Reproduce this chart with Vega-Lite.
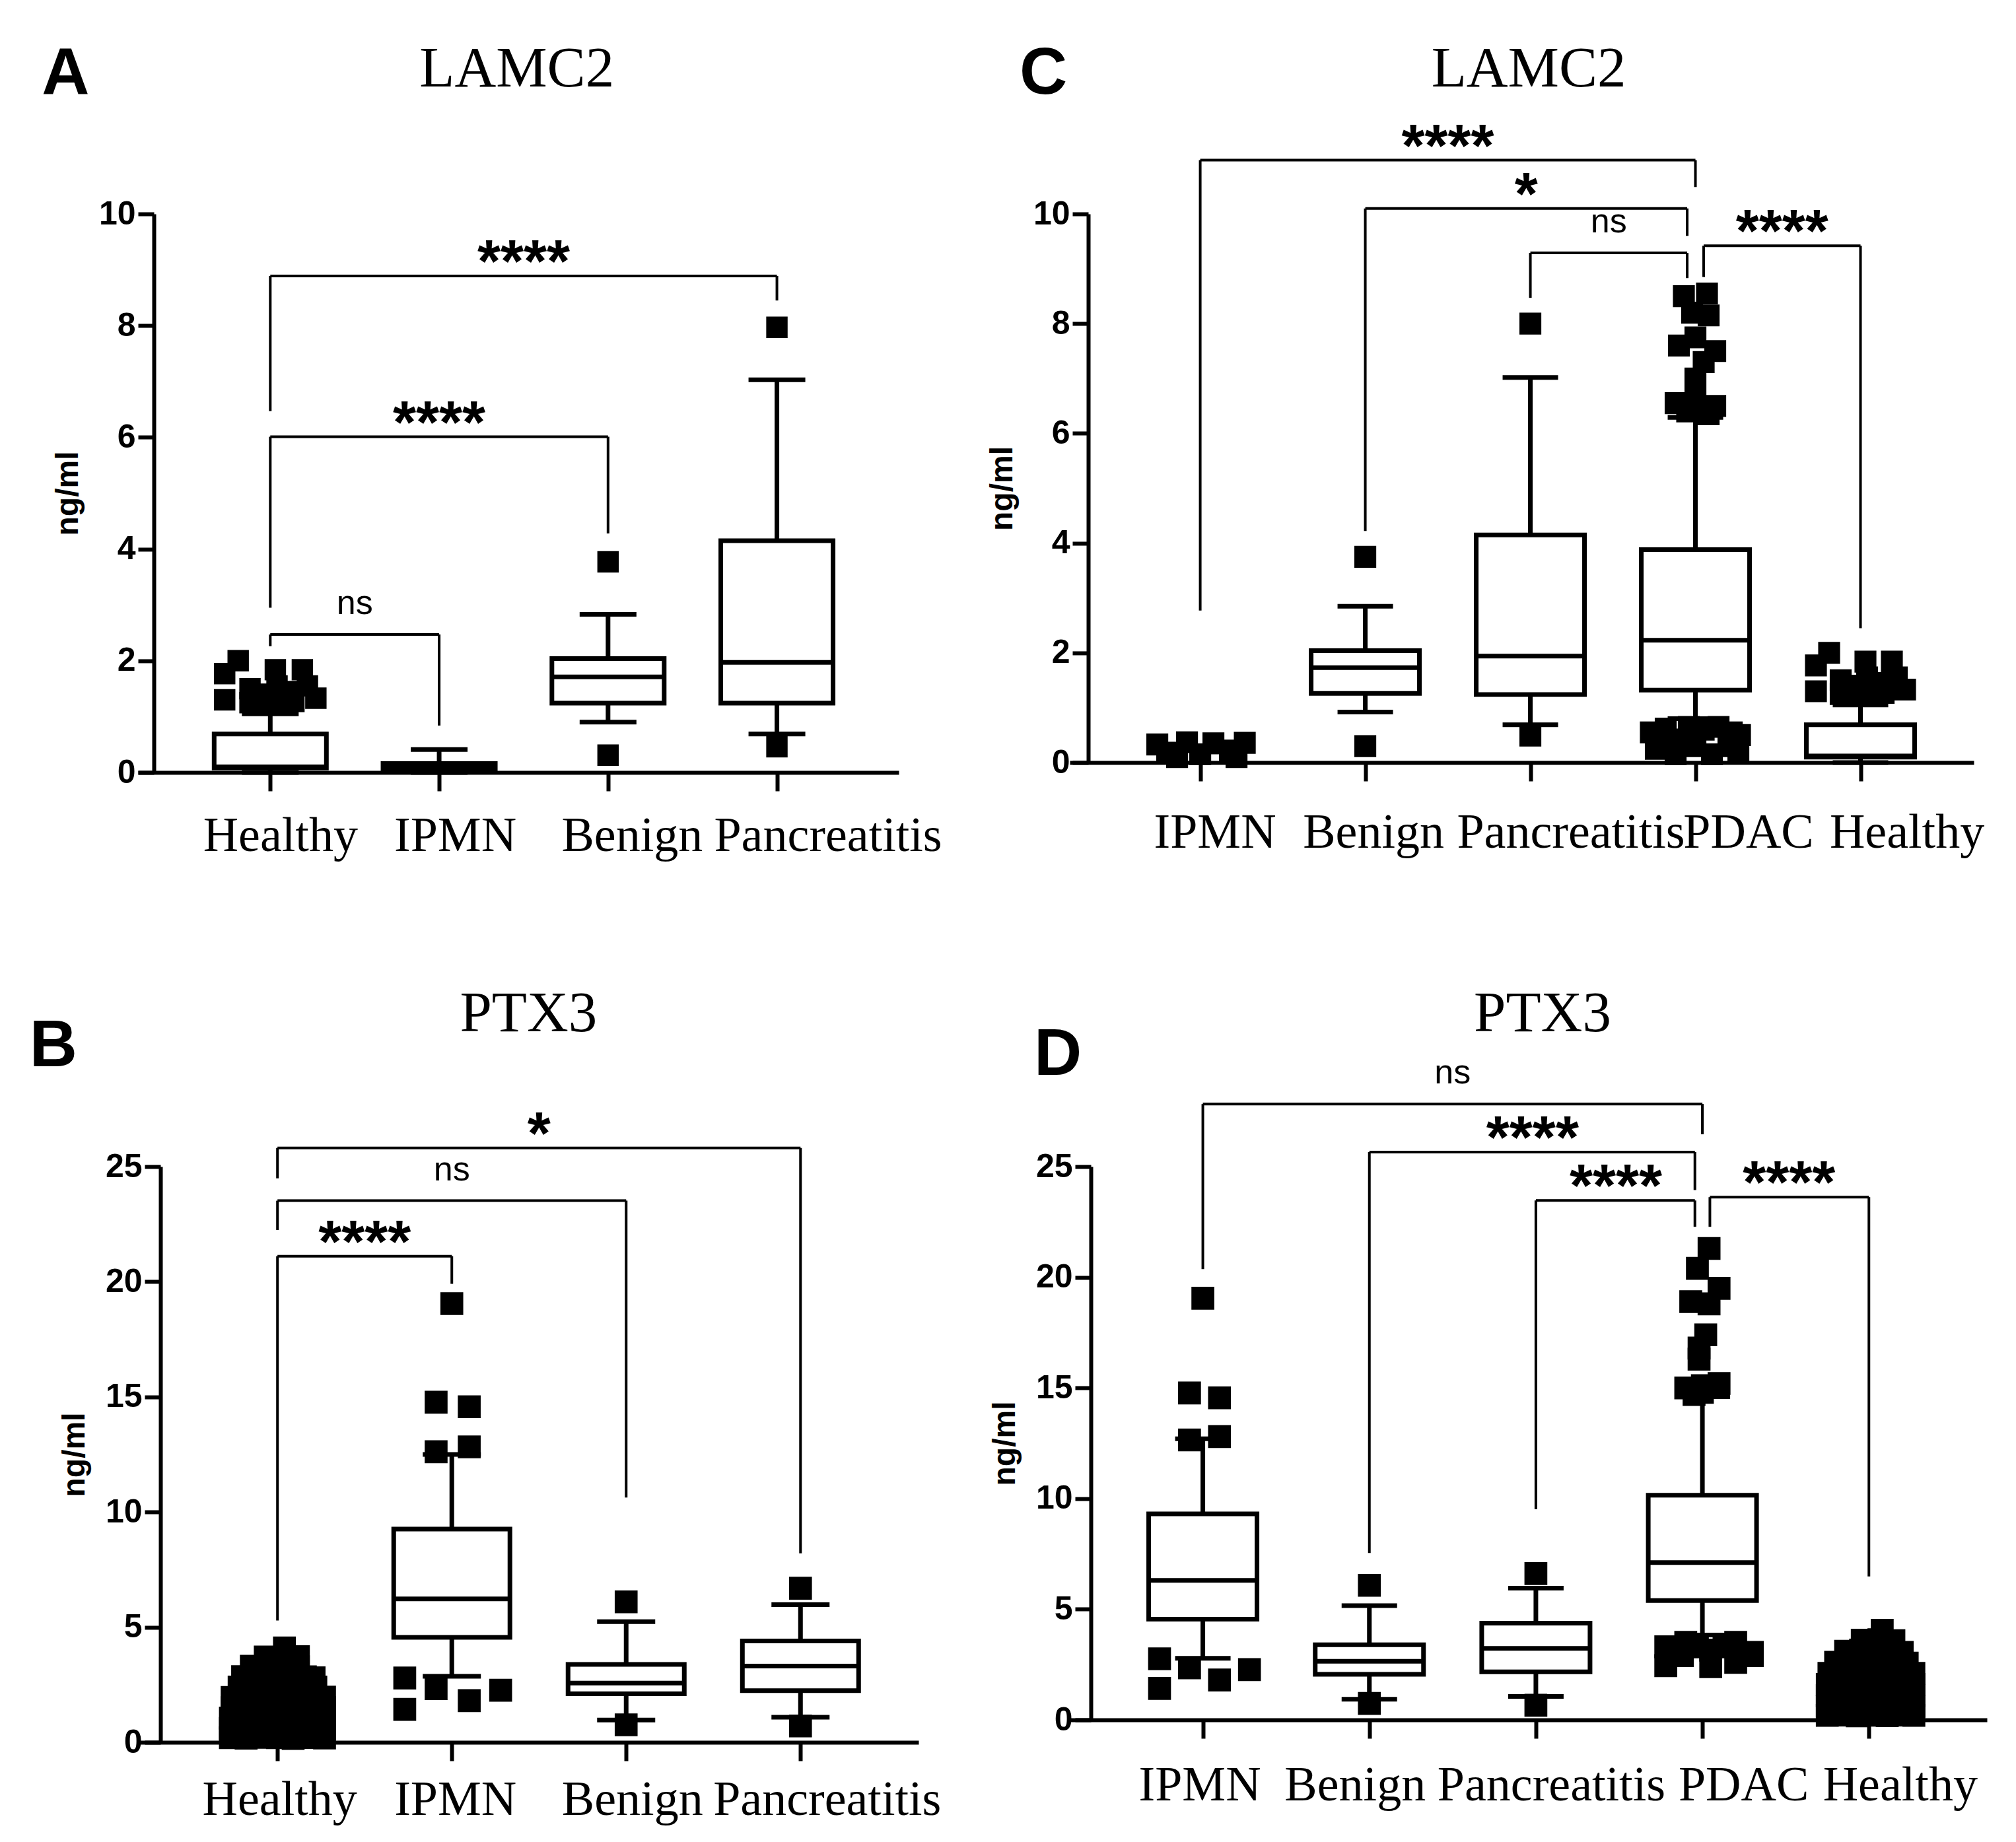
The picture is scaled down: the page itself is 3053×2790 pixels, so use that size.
{
"$schema": "https://vega.github.io/schema/vega-lite/v6.json",
"background": "white",
"padding": {"left": 44, "top": 61, "right": 10, "bottom": 10},
"bounds": "flush",
"columns": 2,
"align": "each",
"spacing": {"row": 597, "column": 229},
"config": {"view": {"stroke": null}, "axis": {"grid": false}},
"datasets": {
"boxes": [
{"panel":"A","group":"Healthy","x":1,"lo":0,"q1":0.08,"med":0.1,"q3":0.69,"hi":1.05},
{"panel":"A","group":"IPMN","x":2,"lo":0,"q1":0.04,"med":0.1,"q3":0.16,"hi":0.41},
{"panel":"A","group":"Benign","x":3,"lo":0.9,"q1":1.24,"med":1.71,"q3":2.04,"hi":2.83},
{"panel":"A","group":"Pancreatitis","x":4,"lo":0.69,"q1":1.24,"med":1.97,"q3":4.15,"hi":7.03},
{"panel":"C","group":"Benign","x":2,"lo":0.92,"q1":1.26,"med":1.73,"q3":2.04,"hi":2.85},
{"panel":"C","group":"Pancreatitis","x":3,"lo":0.69,"q1":1.24,"med":1.94,"q3":4.15,"hi":7.02},
{"panel":"C","group":"PDAC","x":4,"lo":0.8,"q1":1.32,"med":2.23,"q3":3.88,"hi":6.29},
{"panel":"C","group":"Healthy","x":5,"lo":0,"q1":0.1,"med":0.12,"q3":0.69,"hi":1.05},
{"panel":"B","group":"IPMN","x":2,"lo":2.87,"q1":4.56,"med":6.23,"q3":9.26,"hi":12.5},
{"panel":"B","group":"Benign","x":3,"lo":0.97,"q1":2.11,"med":2.57,"q3":3.38,"hi":5.24},
{"panel":"B","group":"Pancreatitis","x":4,"lo":1.09,"q1":2.24,"med":3.31,"q3":4.4,"hi":5.98},
{"panel":"D","group":"IPMN","x":1,"lo":2.78,"q1":4.55,"med":6.3,"q3":9.31,"hi":12.7},
{"panel":"D","group":"Benign","x":2,"lo":0.93,"q1":2.06,"med":2.65,"q3":3.39,"hi":5.16},
{"panel":"D","group":"Pancreatitis","x":3,"lo":1.06,"q1":2.17,"med":3.23,"q3":4.37,"hi":5.95},
{"panel":"D","group":"PDAC","x":4,"lo":3.83,"q1":5.39,"med":7.11,"q3":10.15,"hi":14.6}
],
"points": [
{"panel":"A","x":0.73,"y":1.77},{"panel":"A","x":0.73,"y":1.3},{"panel":"A","x":0.81,"y":2.0},{"panel":"A","x":0.88,"y":1.5},{"panel":"A","x":0.88,"y":1.25},{"panel":"A","x":0.96,"y":1.4},{"panel":"A","x":1.03,"y":1.84},{"panel":"A","x":1.04,"y":1.55},{"panel":"A","x":1.04,"y":1.28},{"panel":"A","x":1.14,"y":1.27},{"panel":"A","x":1.19,"y":1.84},{"panel":"A","x":1.22,"y":1.55},{"panel":"A","x":1.27,"y":1.33},{"panel":"A","x":0.96,"y":1.22},{"panel":"A","x":1.1,"y":1.45},
{"panel":"A","x":3,"y":3.77},{"panel":"A","x":3,"y":0.31},{"panel":"A","x":4,"y":7.97},{"panel":"A","x":4,"y":0.46},
{"panel":"C","x":0.74,"y":0.33},{"panel":"C","x":0.8,"y":0.18},{"panel":"C","x":0.92,"y":0.37},{"panel":"C","x":1.0,"y":0.15},{"panel":"C","x":1.08,"y":0.35},{"panel":"C","x":1.18,"y":0.22},{"panel":"C","x":1.27,"y":0.36},{"panel":"C","x":0.86,"y":0.1},{"panel":"C","x":1.22,"y":0.1},
{"panel":"C","x":2,"y":3.75},{"panel":"C","x":2,"y":0.3},{"panel":"C","x":3,"y":8.0},{"panel":"C","x":3,"y":0.49},
{"panel":"C","x":3.93,"y":8.5},{"panel":"C","x":4.07,"y":8.55},{"panel":"C","x":3.98,"y":8.2},{"panel":"C","x":4.08,"y":8.15},{"panel":"C","x":3.9,"y":7.6},{"panel":"C","x":4.0,"y":7.75},{"panel":"C","x":4.12,"y":7.5},{"panel":"C","x":4.05,"y":7.3},{"panel":"C","x":4.0,"y":7.0},{"panel":"C","x":3.88,"y":6.55},{"panel":"C","x":4.0,"y":6.6},{"panel":"C","x":4.12,"y":6.5},{"panel":"C","x":3.95,"y":6.4},{"panel":"C","x":4.08,"y":6.35},
{"panel":"C","x":3.73,"y":0.55},{"panel":"C","x":3.82,"y":0.62},{"panel":"C","x":3.9,"y":0.4},{"panel":"C","x":3.96,"y":0.65},{"panel":"C","x":4.05,"y":0.6},{"panel":"C","x":4.14,"y":0.65},{"panel":"C","x":4.22,"y":0.55},{"panel":"C","x":4.27,"y":0.5},{"panel":"C","x":3.76,"y":0.25},{"panel":"C","x":3.88,"y":0.15},{"panel":"C","x":4.0,"y":0.3},{"panel":"C","x":4.1,"y":0.15},{"panel":"C","x":4.2,"y":0.3},{"panel":"C","x":3.84,"y":0.42},{"panel":"C","x":4.26,"y":0.22},
{"panel":"C","x":4.73,"y":1.77},{"panel":"C","x":4.73,"y":1.3},{"panel":"C","x":4.81,"y":2.0},{"panel":"C","x":4.88,"y":1.5},{"panel":"C","x":4.88,"y":1.25},{"panel":"C","x":4.96,"y":1.4},{"panel":"C","x":5.03,"y":1.84},{"panel":"C","x":5.04,"y":1.55},{"panel":"C","x":5.04,"y":1.28},{"panel":"C","x":5.14,"y":1.27},{"panel":"C","x":5.19,"y":1.84},{"panel":"C","x":5.22,"y":1.55},{"panel":"C","x":5.27,"y":1.33},{"panel":"C","x":4.96,"y":1.22},{"panel":"C","x":5.1,"y":1.45},
{"panel":"B","x":1.04,"y":4.1},
{"panel":"B","x":0.93,"y":3.7},{"panel":"B","x":1.04,"y":3.68},{"panel":"B","x":1.12,"y":3.72},
{"panel":"B","x":0.85,"y":3.3},{"panel":"B","x":0.94,"y":3.25},{"panel":"B","x":1.03,"y":3.32},{"panel":"B","x":1.12,"y":3.28},
{"panel":"B","x":0.8,"y":2.85},{"panel":"B","x":0.89,"y":2.9},{"panel":"B","x":0.98,"y":2.82},{"panel":"B","x":1.07,"y":2.88},{"panel":"B","x":1.16,"y":2.84},{"panel":"B","x":1.21,"y":2.8},
{"panel":"B","x":0.78,"y":2.4},{"panel":"B","x":0.87,"y":2.44},{"panel":"B","x":0.96,"y":2.38},{"panel":"B","x":1.05,"y":2.42},{"panel":"B","x":1.14,"y":2.36},{"panel":"B","x":1.22,"y":2.4},
{"panel":"B","x":0.74,"y":1.95},{"panel":"B","x":0.83,"y":1.92},{"panel":"B","x":0.92,"y":1.97},{"panel":"B","x":1.01,"y":1.94},{"panel":"B","x":1.1,"y":1.98},{"panel":"B","x":1.19,"y":1.93},{"panel":"B","x":1.27,"y":1.96},
{"panel":"B","x":0.74,"y":1.5},{"panel":"B","x":0.83,"y":1.48},{"panel":"B","x":0.92,"y":1.52},{"panel":"B","x":1.01,"y":1.5},{"panel":"B","x":1.1,"y":1.47},{"panel":"B","x":1.19,"y":1.53},{"panel":"B","x":1.27,"y":1.5},
{"panel":"B","x":0.73,"y":1.05},{"panel":"B","x":0.82,"y":1.03},{"panel":"B","x":0.91,"y":1.07},{"panel":"B","x":1.0,"y":1.05},{"panel":"B","x":1.09,"y":1.02},{"panel":"B","x":1.18,"y":1.06},{"panel":"B","x":1.27,"y":1.04},
{"panel":"B","x":0.73,"y":0.6},{"panel":"B","x":0.82,"y":0.62},{"panel":"B","x":0.91,"y":0.58},{"panel":"B","x":1.0,"y":0.6},{"panel":"B","x":1.09,"y":0.63},{"panel":"B","x":1.18,"y":0.57},{"panel":"B","x":1.27,"y":0.6},
{"panel":"B","x":0.73,"y":0.2},{"panel":"B","x":0.82,"y":0.18},{"panel":"B","x":0.91,"y":0.22},{"panel":"B","x":1.0,"y":0.2},{"panel":"B","x":1.09,"y":0.17},{"panel":"B","x":1.18,"y":0.21},{"panel":"B","x":1.27,"y":0.19},
{"panel":"B","x":2.0,"y":19.05},{"panel":"B","x":1.91,"y":14.77},{"panel":"B","x":2.1,"y":14.57},{"panel":"B","x":1.91,"y":12.62},{"panel":"B","x":2.1,"y":12.83},{"panel":"B","x":1.73,"y":2.79},{"panel":"B","x":1.73,"y":1.43},{"panel":"B","x":1.91,"y":2.33},{"panel":"B","x":2.1,"y":1.81},{"panel":"B","x":2.28,"y":2.26},
{"panel":"B","x":3,"y":6.1},{"panel":"B","x":3,"y":0.76},{"panel":"B","x":4,"y":6.69},{"panel":"B","x":4,"y":0.71},
{"panel":"D","x":1.0,"y":19.05},{"panel":"D","x":0.92,"y":14.77},{"panel":"D","x":1.1,"y":14.55},{"panel":"D","x":0.92,"y":12.65},{"panel":"D","x":1.1,"y":12.8},{"panel":"D","x":0.74,"y":2.76},{"panel":"D","x":0.74,"y":1.42},{"panel":"D","x":0.92,"y":2.35},{"panel":"D","x":1.1,"y":1.8},{"panel":"D","x":1.28,"y":2.27},
{"panel":"D","x":2,"y":6.08},{"panel":"D","x":2,"y":0.74},{"panel":"D","x":3,"y":6.61},{"panel":"D","x":3,"y":0.66},
{"panel":"D","x":4.04,"y":21.3},{"panel":"D","x":3.97,"y":20.4},{"panel":"D","x":4.1,"y":19.5},{"panel":"D","x":3.93,"y":18.9},{"panel":"D","x":4.04,"y":18.8},{"panel":"D","x":4.02,"y":17.4},{"panel":"D","x":3.98,"y":16.8},{"panel":"D","x":3.98,"y":16.3},{"panel":"D","x":3.9,"y":15.0},{"panel":"D","x":4.0,"y":15.1},{"panel":"D","x":4.1,"y":15.2},{"panel":"D","x":4.0,"y":14.8},{"panel":"D","x":3.95,"y":14.7},
{"panel":"D","x":3.78,"y":3.3},{"panel":"D","x":3.78,"y":2.45},{"panel":"D","x":3.9,"y":3.5},{"panel":"D","x":3.97,"y":3.3},{"panel":"D","x":4.05,"y":3.15},{"panel":"D","x":4.05,"y":2.4},{"panel":"D","x":4.2,"y":3.5},{"panel":"D","x":4.2,"y":2.6},{"panel":"D","x":4.3,"y":3.05},{"panel":"D","x":3.88,"y":2.9},{"panel":"D","x":3.85,"y":3.1},{"panel":"D","x":4.13,"y":3.3},{"panel":"D","x":4.3,"y":2.9},
{"panel":"D","x":5.08,"y":4.05},
{"panel":"D","x":4.96,"y":3.6},{"panel":"D","x":5.06,"y":3.62},{"panel":"D","x":5.15,"y":3.58},
{"panel":"D","x":4.86,"y":3.1},{"panel":"D","x":4.95,"y":3.15},{"panel":"D","x":5.04,"y":3.08},{"panel":"D","x":5.14,"y":3.12},{"panel":"D","x":5.2,"y":3.05},
{"panel":"D","x":4.8,"y":2.6},{"panel":"D","x":4.89,"y":2.65},{"panel":"D","x":4.98,"y":2.58},{"panel":"D","x":5.07,"y":2.62},{"panel":"D","x":5.16,"y":2.6},{"panel":"D","x":5.23,"y":2.56},
{"panel":"D","x":4.76,"y":2.1},{"panel":"D","x":4.85,"y":2.12},{"panel":"D","x":4.94,"y":2.08},{"panel":"D","x":5.03,"y":2.1},{"panel":"D","x":5.12,"y":2.14},{"panel":"D","x":5.21,"y":2.07},{"panel":"D","x":5.27,"y":2.1},
{"panel":"D","x":4.75,"y":1.6},{"panel":"D","x":4.84,"y":1.62},{"panel":"D","x":4.93,"y":1.58},{"panel":"D","x":5.02,"y":1.6},{"panel":"D","x":5.11,"y":1.63},{"panel":"D","x":5.2,"y":1.57},{"panel":"D","x":5.27,"y":1.6},
{"panel":"D","x":4.75,"y":1.1},{"panel":"D","x":4.84,"y":1.12},{"panel":"D","x":4.93,"y":1.08},{"panel":"D","x":5.02,"y":1.1},{"panel":"D","x":5.11,"y":1.13},{"panel":"D","x":5.2,"y":1.07},{"panel":"D","x":5.27,"y":1.1},
{"panel":"D","x":4.75,"y":0.62},{"panel":"D","x":4.84,"y":0.6},{"panel":"D","x":4.93,"y":0.64},{"panel":"D","x":5.02,"y":0.62},{"panel":"D","x":5.11,"y":0.59},{"panel":"D","x":5.2,"y":0.63},{"panel":"D","x":5.27,"y":0.61},
{"panel":"D","x":4.75,"y":0.2},{"panel":"D","x":4.84,"y":0.22},{"panel":"D","x":4.93,"y":0.18},{"panel":"D","x":5.02,"y":0.21},{"panel":"D","x":5.11,"y":0.19},{"panel":"D","x":5.2,"y":0.22},{"panel":"D","x":5.27,"y":0.2}
],
"brackets": [
{"panel":"A","x1":1,"x2":2,"xm":1.5,"yt":2.47,"yl":2.26,"yr":0.84,"label":"ns"},
{"panel":"A","x1":1,"x2":3,"xm":2.0,"yt":6.01,"yl":2.95,"yr":4.28,"label":"****"},
{"panel":"A","x1":1,"x2":4,"xm":2.5,"yt":8.89,"yl":6.47,"yr":8.45,"label":"****"},
{"panel":"C","x1":1,"x2":4,"xm":2.5,"yt":10.98,"yl":2.77,"yr":10.49,"label":"****"},
{"panel":"C","x1":2,"x2":3.95,"xm":2.975,"yt":10.1,"yl":4.22,"yr":9.6,"label":"*"},
{"panel":"C","x1":3,"x2":3.95,"xm":3.475,"yt":9.29,"yl":8.47,"yr":8.83,"label":"ns"},
{"panel":"C","x1":4.05,"x2":5,"xm":4.525,"yt":9.42,"yl":8.85,"yr":2.45,"label":"****"},
{"panel":"B","x1":1,"x2":2,"xm":1.5,"yt":21.11,"yl":5.29,"yr":19.91,"label":"****"},
{"panel":"B","x1":1,"x2":3,"xm":2.0,"yt":23.52,"yl":22.25,"yr":10.63,"label":"ns"},
{"panel":"B","x1":1,"x2":4,"xm":2.5,"yt":25.81,"yl":24.49,"yr":8.21,"label":"*"},
{"panel":"D","x1":1,"x2":4,"xm":2.5,"yt":27.83,"yl":20.37,"yr":26.46,"label":"ns"},
{"panel":"D","x1":2,"x2":3.955,"xm":2.98,"yt":25.66,"yl":7.54,"yr":23.94,"label":"****"},
{"panel":"D","x1":3,"x2":3.955,"xm":3.48,"yt":23.47,"yl":9.52,"yr":22.28,"label":"****"},
{"panel":"D","x1":4.045,"x2":5,"xm":4.52,"yt":23.62,"yl":22.28,"yr":6.48,"label":"****"}
],
"texts": [
{"panel":"A","kind":"title","x":2.46,"y":12.28,"text":"LAMC2"},
{"panel":"A","kind":"letter","x":-0.212,"y":12.14,"text":"A"},
{"panel":"C","kind":"title","x":2.99,"y":12.32,"text":"LAMC2"},
{"panel":"C","kind":"letter","x":0.05,"y":12.19,"text":"C"},
{"panel":"B","kind":"title","x":2.44,"y":30.88,"text":"PTX3"},
{"panel":"B","kind":"letter","x":-0.285,"y":29.36,"text":"B"},
{"panel":"D","kind":"title","x":3.04,"y":31.11,"text":"PTX3"},
{"panel":"D","kind":"letter","x":0.13,"y":29.15,"text":"D"}
]
},
"concat": [
{
"width": 1152, "height": 846,
"layer": [
{"data":{"name":"boxes"},"transform":[{"filter":"datum.panel === 'A'"}],"mark":{"type":"rule","color":"black","strokeWidth":7},
 "encoding":{
  "x":{"field":"x","type":"quantitative","scale":{"domain":[0.2364,4.7016],"nice":false,"zero":false},
   "axis":{"values":[1,2,3,4],"labelExpr":"['','Healthy','IPMN','Benign','Pancreatitis'][datum.value]","title":null,"tickSize":28,"labelPadding":32,"labelFont":"Liberation Serif","labelFontSize":74,"labelColor":"black","labelAngle":0,"labelOverlap":false,"labelFlush":false,"labelLimit":0,"domainWidth":6,"domainColor":"black","tickWidth":6,"tickColor":"black","labelOffset":{"condition":[{"test":"datum.value === 1","value":15},{"test":"datum.value === 2","value":24},{"test":"datum.value === 3","value":36}],"value":77}}},
  "y":{"field":"lo","type":"quantitative","scale":{"domain":[0,10],"nice":false},
   "axis":{"values":[0,2,4,6,8,10],"format":"d","title":"ng/ml","offset":-24,"tickSize":24,"labelPadding":4,"labelFont":"Liberation Sans","labelFontSize":50,"labelFontWeight":"bold","labelColor":"black","titleFont":"Liberation Sans","titleFontSize":48,"titleFontWeight":"bold","titleColor":"black","titlePadding":22,"domainWidth":6,"domainColor":"black","tickWidth":6,"tickColor":"black","labelFlush":false,"labelOverlap":false}},
  "y2":{"field":"hi"}}},
{"data":{"name":"boxes"},"transform":[{"filter":"datum.panel === 'A'"}],"mark":{"type":"tick","orient":"horizontal","color":"black","thickness":7,"size":86,"opacity":1},
 "encoding":{"x":{"field":"x","type":"quantitative","scale":{"domain":[0.2364,4.7016],"nice":false,"zero":false},"axis":{"title":null}},"y":{"field":"lo","type":"quantitative","scale":{"domain":[0,10],"nice":false},"axis":{"title":"ng/ml"}}}},
{"data":{"name":"boxes"},"transform":[{"filter":"datum.panel === 'A'"}],"mark":{"type":"tick","orient":"horizontal","color":"black","thickness":7,"size":86,"opacity":1},
 "encoding":{"x":{"field":"x","type":"quantitative","scale":{"domain":[0.2364,4.7016],"nice":false,"zero":false},"axis":{"title":null}},"y":{"field":"hi","type":"quantitative","scale":{"domain":[0,10],"nice":false},"axis":{"title":"ng/ml"}}}},
{"data":{"name":"boxes"},"transform":[{"filter":"datum.panel === 'A'"}],"mark":{"type":"bar","fill":"white","stroke":"black","strokeWidth":7,"width":170},
 "encoding":{"x":{"field":"x","type":"quantitative","scale":{"domain":[0.2364,4.7016],"nice":false,"zero":false},"axis":{"title":null}},"y":{"field":"q1","type":"quantitative","scale":{"domain":[0,10],"nice":false},"axis":{"title":"ng/ml"}},"y2":{"field":"q3"}}},
{"data":{"name":"boxes"},"transform":[{"filter":"datum.panel === 'A'"}],"mark":{"type":"tick","orient":"horizontal","color":"black","thickness":7,"size":170,"opacity":1},
 "encoding":{"x":{"field":"x","type":"quantitative","scale":{"domain":[0.2364,4.7016],"nice":false,"zero":false},"axis":{"title":null}},"y":{"field":"med","type":"quantitative","scale":{"domain":[0,10],"nice":false},"axis":{"title":"ng/ml"}}}},
{"data":{"name":"points"},"transform":[{"filter":"datum.panel === 'A'"}],"mark":{"type":"point","shape":"square","filled":true,"color":"black","size":1050,"opacity":1},
 "encoding":{"x":{"field":"x","type":"quantitative","scale":{"domain":[0.2364,4.7016],"nice":false,"zero":false},"axis":{"title":null}},"y":{"field":"y","type":"quantitative","scale":{"domain":[0,10],"nice":false},"axis":{"title":"ng/ml"}}}},
{"data":{"name":"brackets"},"transform":[{"filter":"datum.panel === 'A'"}],"mark":{"type":"rule","color":"black","strokeWidth":4},
 "encoding":{"x":{"field":"x1","type":"quantitative","scale":{"domain":[0.2364,4.7016],"nice":false,"zero":false},"axis":{"title":null}},"x2":{"field":"x2"},"y":{"field":"yt","type":"quantitative","scale":{"domain":[0,10],"nice":false},"axis":{"title":"ng/ml"}}}},
{"data":{"name":"brackets"},"transform":[{"filter":"datum.panel === 'A'"}],"mark":{"type":"rule","color":"black","strokeWidth":4},
 "encoding":{"x":{"field":"x1","type":"quantitative","scale":{"domain":[0.2364,4.7016],"nice":false,"zero":false},"axis":{"title":null}},"y":{"field":"yl","type":"quantitative","scale":{"domain":[0,10],"nice":false},"axis":{"title":"ng/ml"}},"y2":{"field":"yt"}}},
{"data":{"name":"brackets"},"transform":[{"filter":"datum.panel === 'A'"}],"mark":{"type":"rule","color":"black","strokeWidth":4},
 "encoding":{"x":{"field":"x2","type":"quantitative","scale":{"domain":[0.2364,4.7016],"nice":false,"zero":false},"axis":{"title":null}},"y":{"field":"yr","type":"quantitative","scale":{"domain":[0,10],"nice":false},"axis":{"title":"ng/ml"}},"y2":{"field":"yt"}}},
{"data":{"name":"brackets"},"transform":[{"filter":"datum.panel === 'A' && datum.label !== 'ns'"}],"mark":{"type":"text","font":"Liberation Sans","fontSize":90,"fontWeight":"bold","color":"black","align":"center","baseline":"middle","dy":-18},
 "encoding":{"x":{"field":"xm","type":"quantitative","scale":{"domain":[0.2364,4.7016],"nice":false,"zero":false},"axis":{"title":null}},"y":{"field":"yt","type":"quantitative","scale":{"domain":[0,10],"nice":false},"axis":{"title":"ng/ml"}},"text":{"field":"label"}}},
{"data":{"name":"brackets"},"transform":[{"filter":"datum.panel === 'A' && datum.label === 'ns'"}],"mark":{"type":"text","font":"Liberation Sans","fontSize":52,"color":"black","align":"center","baseline":"middle","dy":-47},
 "encoding":{"x":{"field":"xm","type":"quantitative","scale":{"domain":[0.2364,4.7016],"nice":false,"zero":false},"axis":{"title":null}},"y":{"field":"yt","type":"quantitative","scale":{"domain":[0,10],"nice":false},"axis":{"title":"ng/ml"}},"text":{"field":"label"}}},
{"data":{"name":"texts"},"transform":[{"filter":"datum.panel === 'A' && datum.kind === 'title'"}],"mark":{"type":"text","font":"Liberation Serif","fontSize":87,"color":"black","align":"center","baseline":"alphabetic"},
 "encoding":{"x":{"field":"x","type":"quantitative","scale":{"domain":[0.2364,4.7016],"nice":false,"zero":false},"axis":{"title":null}},"y":{"field":"y","type":"quantitative","scale":{"domain":[0,10],"nice":false},"axis":{"title":"ng/ml"}},"text":{"field":"text"}}},
{"data":{"name":"texts"},"transform":[{"filter":"datum.panel === 'A' && datum.kind === 'letter'"}],"mark":{"type":"text","font":"Liberation Sans","fontSize":100,"fontWeight":"bold","color":"black","align":"center","baseline":"alphabetic"},
 "encoding":{"x":{"field":"x","type":"quantitative","scale":{"domain":[0.2364,4.7016],"nice":false,"zero":false},"axis":{"title":null}},"y":{"field":"y","type":"quantitative","scale":{"domain":[0,10],"nice":false},"axis":{"title":"ng/ml"}},"text":{"field":"text"}}}
]
},
{
"width": 1369, "height": 831,
"layer": [
{"data":{"name":"boxes"},"transform":[{"filter":"datum.panel === 'C'"}],"mark":{"type":"rule","color":"black","strokeWidth":7},
 "encoding":{
  "x":{"field":"x","type":"quantitative","scale":{"domain":[0.2296,5.666],"nice":false,"zero":false},
   "axis":{"values":[1,2,3,4,5],"labelExpr":"['','IPMN','Benign','Pancreatitis','PDAC','Healthy'][datum.value]","title":null,"tickSize":28,"labelPadding":42,"labelFont":"Liberation Serif","labelFontSize":74,"labelColor":"black","labelAngle":0,"labelOverlap":false,"labelFlush":false,"labelLimit":0,"domainWidth":6,"domainColor":"black","tickWidth":6,"tickColor":"black","labelOffset":{"condition":[{"test":"datum.value === 1","value":22},{"test":"datum.value === 2","value":12},{"test":"datum.value === 3","value":61},{"test":"datum.value === 4","value":80}],"value":70}}},
  "y":{"field":"lo","type":"quantitative","scale":{"domain":[0,10],"nice":false},
   "axis":{"values":[0,2,4,6,8,10],"format":"d","title":"ng/ml","offset":-28,"tickSize":24,"labelPadding":4,"labelFont":"Liberation Sans","labelFontSize":50,"labelFontWeight":"bold","labelColor":"black","titleFont":"Liberation Sans","titleFontSize":48,"titleFontWeight":"bold","titleColor":"black","titlePadding":22,"domainWidth":6,"domainColor":"black","tickWidth":6,"tickColor":"black","labelFlush":false,"labelOverlap":false}},
  "y2":{"field":"hi"}}},
{"data":{"name":"boxes"},"transform":[{"filter":"datum.panel === 'C'"}],"mark":{"type":"tick","orient":"horizontal","color":"black","thickness":7,"size":84,"opacity":1},
 "encoding":{"x":{"field":"x","type":"quantitative","scale":{"domain":[0.2296,5.666],"nice":false,"zero":false},"axis":{"title":null}},"y":{"field":"lo","type":"quantitative","scale":{"domain":[0,10],"nice":false},"axis":{"title":"ng/ml"}}}},
{"data":{"name":"boxes"},"transform":[{"filter":"datum.panel === 'C'"}],"mark":{"type":"tick","orient":"horizontal","color":"black","thickness":7,"size":84,"opacity":1},
 "encoding":{"x":{"field":"x","type":"quantitative","scale":{"domain":[0.2296,5.666],"nice":false,"zero":false},"axis":{"title":null}},"y":{"field":"hi","type":"quantitative","scale":{"domain":[0,10],"nice":false},"axis":{"title":"ng/ml"}}}},
{"data":{"name":"boxes"},"transform":[{"filter":"datum.panel === 'C'"}],"mark":{"type":"bar","fill":"white","stroke":"black","strokeWidth":7,"width":164},
 "encoding":{"x":{"field":"x","type":"quantitative","scale":{"domain":[0.2296,5.666],"nice":false,"zero":false},"axis":{"title":null}},"y":{"field":"q1","type":"quantitative","scale":{"domain":[0,10],"nice":false},"axis":{"title":"ng/ml"}},"y2":{"field":"q3"}}},
{"data":{"name":"boxes"},"transform":[{"filter":"datum.panel === 'C'"}],"mark":{"type":"tick","orient":"horizontal","color":"black","thickness":7,"size":164,"opacity":1},
 "encoding":{"x":{"field":"x","type":"quantitative","scale":{"domain":[0.2296,5.666],"nice":false,"zero":false},"axis":{"title":null}},"y":{"field":"med","type":"quantitative","scale":{"domain":[0,10],"nice":false},"axis":{"title":"ng/ml"}}}},
{"data":{"name":"points"},"transform":[{"filter":"datum.panel === 'C'"}],"mark":{"type":"point","shape":"square","filled":true,"color":"black","size":1100,"opacity":1},
 "encoding":{"x":{"field":"x","type":"quantitative","scale":{"domain":[0.2296,5.666],"nice":false,"zero":false},"axis":{"title":null}},"y":{"field":"y","type":"quantitative","scale":{"domain":[0,10],"nice":false},"axis":{"title":"ng/ml"}}}},
{"data":{"name":"brackets"},"transform":[{"filter":"datum.panel === 'C'"}],"mark":{"type":"rule","color":"black","strokeWidth":4},
 "encoding":{"x":{"field":"x1","type":"quantitative","scale":{"domain":[0.2296,5.666],"nice":false,"zero":false},"axis":{"title":null}},"x2":{"field":"x2"},"y":{"field":"yt","type":"quantitative","scale":{"domain":[0,10],"nice":false},"axis":{"title":"ng/ml"}}}},
{"data":{"name":"brackets"},"transform":[{"filter":"datum.panel === 'C'"}],"mark":{"type":"rule","color":"black","strokeWidth":4},
 "encoding":{"x":{"field":"x1","type":"quantitative","scale":{"domain":[0.2296,5.666],"nice":false,"zero":false},"axis":{"title":null}},"y":{"field":"yl","type":"quantitative","scale":{"domain":[0,10],"nice":false},"axis":{"title":"ng/ml"}},"y2":{"field":"yt"}}},
{"data":{"name":"brackets"},"transform":[{"filter":"datum.panel === 'C'"}],"mark":{"type":"rule","color":"black","strokeWidth":4},
 "encoding":{"x":{"field":"x2","type":"quantitative","scale":{"domain":[0.2296,5.666],"nice":false,"zero":false},"axis":{"title":null}},"y":{"field":"yr","type":"quantitative","scale":{"domain":[0,10],"nice":false},"axis":{"title":"ng/ml"}},"y2":{"field":"yt"}}},
{"data":{"name":"brackets"},"transform":[{"filter":"datum.panel === 'C' && datum.label !== 'ns'"}],"mark":{"type":"text","font":"Liberation Sans","fontSize":90,"fontWeight":"bold","color":"black","align":"center","baseline":"middle","dy":-18},
 "encoding":{"x":{"field":"xm","type":"quantitative","scale":{"domain":[0.2296,5.666],"nice":false,"zero":false},"axis":{"title":null}},"y":{"field":"yt","type":"quantitative","scale":{"domain":[0,10],"nice":false},"axis":{"title":"ng/ml"}},"text":{"field":"label"}}},
{"data":{"name":"brackets"},"transform":[{"filter":"datum.panel === 'C' && datum.label === 'ns'"}],"mark":{"type":"text","font":"Liberation Sans","fontSize":52,"color":"black","align":"center","baseline":"middle","dy":-47},
 "encoding":{"x":{"field":"xm","type":"quantitative","scale":{"domain":[0.2296,5.666],"nice":false,"zero":false},"axis":{"title":null}},"y":{"field":"yt","type":"quantitative","scale":{"domain":[0,10],"nice":false},"axis":{"title":"ng/ml"}},"text":{"field":"label"}}},
{"data":{"name":"texts"},"transform":[{"filter":"datum.panel === 'C' && datum.kind === 'title'"}],"mark":{"type":"text","font":"Liberation Serif","fontSize":87,"color":"black","align":"center","baseline":"alphabetic"},
 "encoding":{"x":{"field":"x","type":"quantitative","scale":{"domain":[0.2296,5.666],"nice":false,"zero":false},"axis":{"title":null}},"y":{"field":"y","type":"quantitative","scale":{"domain":[0,10],"nice":false},"axis":{"title":"ng/ml"}},"text":{"field":"text"}}},
{"data":{"name":"texts"},"transform":[{"filter":"datum.panel === 'C' && datum.kind === 'letter'"}],"mark":{"type":"text","font":"Liberation Sans","fontSize":100,"fontWeight":"bold","color":"black","align":"center","baseline":"alphabetic"},
 "encoding":{"x":{"field":"x","type":"quantitative","scale":{"domain":[0.2296,5.666],"nice":false,"zero":false},"axis":{"title":null}},"y":{"field":"y","type":"quantitative","scale":{"domain":[0,10],"nice":false},"axis":{"title":"ng/ml"}},"text":{"field":"text"}}}
]
},
{
"width": 1182, "height": 872,
"layer": [
{"data":{"name":"boxes"},"transform":[{"filter":"datum.panel === 'B'"}],"mark":{"type":"rule","color":"black","strokeWidth":7},
 "encoding":{
  "x":{"field":"x","type":"quantitative","scale":{"domain":[0.219,4.658],"nice":false,"zero":false},
   "axis":{"values":[1,2,3,4],"labelExpr":"['','Healthy','IPMN','Benign','Pancreatitis'][datum.value]","title":null,"tickSize":28,"labelPadding":23,"labelFont":"Liberation Serif","labelFontSize":74,"labelColor":"black","labelAngle":0,"labelOverlap":false,"labelFlush":false,"labelLimit":0,"domainWidth":6,"domainColor":"black","tickWidth":6,"tickColor":"black","labelOffset":{"condition":[{"test":"datum.value === 1","value":3},{"test":"datum.value === 2","value":5},{"test":"datum.value === 3","value":9}],"value":40}}},
  "y":{"field":"lo","type":"quantitative","scale":{"domain":[0,25],"nice":false},
   "axis":{"values":[0,5,10,15,20,25],"format":"d","title":"ng/ml","offset":-34,"tickSize":24,"labelPadding":4,"labelFont":"Liberation Sans","labelFontSize":50,"labelFontWeight":"bold","labelColor":"black","titleFont":"Liberation Sans","titleFontSize":48,"titleFontWeight":"bold","titleColor":"black","titlePadding":22,"domainWidth":6,"domainColor":"black","tickWidth":6,"tickColor":"black","labelFlush":false,"labelOverlap":false}},
  "y2":{"field":"hi"}}},
{"data":{"name":"boxes"},"transform":[{"filter":"datum.panel === 'B'"}],"mark":{"type":"tick","orient":"horizontal","color":"black","thickness":7,"size":88,"opacity":1},
 "encoding":{"x":{"field":"x","type":"quantitative","scale":{"domain":[0.219,4.658],"nice":false,"zero":false},"axis":{"title":null}},"y":{"field":"lo","type":"quantitative","scale":{"domain":[0,25],"nice":false},"axis":{"title":"ng/ml"}}}},
{"data":{"name":"boxes"},"transform":[{"filter":"datum.panel === 'B'"}],"mark":{"type":"tick","orient":"horizontal","color":"black","thickness":7,"size":88,"opacity":1},
 "encoding":{"x":{"field":"x","type":"quantitative","scale":{"domain":[0.219,4.658],"nice":false,"zero":false},"axis":{"title":null}},"y":{"field":"hi","type":"quantitative","scale":{"domain":[0,25],"nice":false},"axis":{"title":"ng/ml"}}}},
{"data":{"name":"boxes"},"transform":[{"filter":"datum.panel === 'B'"}],"mark":{"type":"bar","fill":"white","stroke":"black","strokeWidth":7,"width":176},
 "encoding":{"x":{"field":"x","type":"quantitative","scale":{"domain":[0.219,4.658],"nice":false,"zero":false},"axis":{"title":null}},"y":{"field":"q1","type":"quantitative","scale":{"domain":[0,25],"nice":false},"axis":{"title":"ng/ml"}},"y2":{"field":"q3"}}},
{"data":{"name":"boxes"},"transform":[{"filter":"datum.panel === 'B'"}],"mark":{"type":"tick","orient":"horizontal","color":"black","thickness":7,"size":176,"opacity":1},
 "encoding":{"x":{"field":"x","type":"quantitative","scale":{"domain":[0.219,4.658],"nice":false,"zero":false},"axis":{"title":null}},"y":{"field":"med","type":"quantitative","scale":{"domain":[0,25],"nice":false},"axis":{"title":"ng/ml"}}}},
{"data":{"name":"points"},"transform":[{"filter":"datum.panel === 'B'"}],"mark":{"type":"point","shape":"square","filled":true,"color":"black","size":1200,"opacity":1},
 "encoding":{"x":{"field":"x","type":"quantitative","scale":{"domain":[0.219,4.658],"nice":false,"zero":false},"axis":{"title":null}},"y":{"field":"y","type":"quantitative","scale":{"domain":[0,25],"nice":false},"axis":{"title":"ng/ml"}}}},
{"data":{"name":"brackets"},"transform":[{"filter":"datum.panel === 'B'"}],"mark":{"type":"rule","color":"black","strokeWidth":4},
 "encoding":{"x":{"field":"x1","type":"quantitative","scale":{"domain":[0.219,4.658],"nice":false,"zero":false},"axis":{"title":null}},"x2":{"field":"x2"},"y":{"field":"yt","type":"quantitative","scale":{"domain":[0,25],"nice":false},"axis":{"title":"ng/ml"}}}},
{"data":{"name":"brackets"},"transform":[{"filter":"datum.panel === 'B'"}],"mark":{"type":"rule","color":"black","strokeWidth":4},
 "encoding":{"x":{"field":"x1","type":"quantitative","scale":{"domain":[0.219,4.658],"nice":false,"zero":false},"axis":{"title":null}},"y":{"field":"yl","type":"quantitative","scale":{"domain":[0,25],"nice":false},"axis":{"title":"ng/ml"}},"y2":{"field":"yt"}}},
{"data":{"name":"brackets"},"transform":[{"filter":"datum.panel === 'B'"}],"mark":{"type":"rule","color":"black","strokeWidth":4},
 "encoding":{"x":{"field":"x2","type":"quantitative","scale":{"domain":[0.219,4.658],"nice":false,"zero":false},"axis":{"title":null}},"y":{"field":"yr","type":"quantitative","scale":{"domain":[0,25],"nice":false},"axis":{"title":"ng/ml"}},"y2":{"field":"yt"}}},
{"data":{"name":"brackets"},"transform":[{"filter":"datum.panel === 'B' && datum.label !== 'ns'"}],"mark":{"type":"text","font":"Liberation Sans","fontSize":90,"fontWeight":"bold","color":"black","align":"center","baseline":"middle","dy":-18},
 "encoding":{"x":{"field":"xm","type":"quantitative","scale":{"domain":[0.219,4.658],"nice":false,"zero":false},"axis":{"title":null}},"y":{"field":"yt","type":"quantitative","scale":{"domain":[0,25],"nice":false},"axis":{"title":"ng/ml"}},"text":{"field":"label"}}},
{"data":{"name":"brackets"},"transform":[{"filter":"datum.panel === 'B' && datum.label === 'ns'"}],"mark":{"type":"text","font":"Liberation Sans","fontSize":52,"color":"black","align":"center","baseline":"middle","dy":-47},
 "encoding":{"x":{"field":"xm","type":"quantitative","scale":{"domain":[0.219,4.658],"nice":false,"zero":false},"axis":{"title":null}},"y":{"field":"yt","type":"quantitative","scale":{"domain":[0,25],"nice":false},"axis":{"title":"ng/ml"}},"text":{"field":"label"}}},
{"data":{"name":"texts"},"transform":[{"filter":"datum.panel === 'B' && datum.kind === 'title'"}],"mark":{"type":"text","font":"Liberation Serif","fontSize":87,"color":"black","align":"center","baseline":"alphabetic"},
 "encoding":{"x":{"field":"x","type":"quantitative","scale":{"domain":[0.219,4.658],"nice":false,"zero":false},"axis":{"title":null}},"y":{"field":"y","type":"quantitative","scale":{"domain":[0,25],"nice":false},"axis":{"title":"ng/ml"}},"text":{"field":"text"}}},
{"data":{"name":"texts"},"transform":[{"filter":"datum.panel === 'B' && datum.kind === 'letter'"}],"mark":{"type":"text","font":"Liberation Sans","fontSize":100,"fontWeight":"bold","color":"black","align":"center","baseline":"alphabetic"},
 "encoding":{"x":{"field":"x","type":"quantitative","scale":{"domain":[0.219,4.658],"nice":false,"zero":false},"axis":{"title":null}},"y":{"field":"y","type":"quantitative","scale":{"domain":[0,25],"nice":false},"axis":{"title":"ng/ml"}},"text":{"field":"text"}}}
]
},
{
"width": 1389, "height": 838,
"layer": [
{"data":{"name":"boxes"},"transform":[{"filter":"datum.panel === 'D'"}],"mark":{"type":"rule","color":"black","strokeWidth":7},
 "encoding":{
  "x":{"field":"x","type":"quantitative","scale":{"domain":[0.2205,5.689],"nice":false,"zero":false},
   "axis":{"values":[1,2,3,4,5],"labelExpr":"['','IPMN','Benign','Pancreatitis','PDAC','Healthy'][datum.value]","title":null,"tickSize":28,"labelPadding":35,"labelFont":"Liberation Serif","labelFontSize":74,"labelColor":"black","labelAngle":0,"labelOverlap":false,"labelFlush":false,"labelLimit":0,"domainWidth":6,"domainColor":"black","tickWidth":6,"tickColor":"black","labelOffset":{"condition":[{"test":"datum.value === 1","value":-5},{"test":"datum.value === 2","value":-22},{"test":"datum.value === 3","value":23},{"test":"datum.value === 4","value":62}],"value":47}}},
  "y":{"field":"lo","type":"quantitative","scale":{"domain":[0,25],"nice":false},
   "axis":{"values":[0,5,10,15,20,25],"format":"d","title":"ng/ml","offset":-32,"tickSize":24,"labelPadding":4,"labelFont":"Liberation Sans","labelFontSize":50,"labelFontWeight":"bold","labelColor":"black","titleFont":"Liberation Sans","titleFontSize":48,"titleFontWeight":"bold","titleColor":"black","titlePadding":22,"domainWidth":6,"domainColor":"black","tickWidth":6,"tickColor":"black","labelFlush":false,"labelOverlap":false}},
  "y2":{"field":"hi"}}},
{"data":{"name":"boxes"},"transform":[{"filter":"datum.panel === 'D'"}],"mark":{"type":"tick","orient":"horizontal","color":"black","thickness":7,"size":84,"opacity":1},
 "encoding":{"x":{"field":"x","type":"quantitative","scale":{"domain":[0.2205,5.689],"nice":false,"zero":false},"axis":{"title":null}},"y":{"field":"lo","type":"quantitative","scale":{"domain":[0,25],"nice":false},"axis":{"title":"ng/ml"}}}},
{"data":{"name":"boxes"},"transform":[{"filter":"datum.panel === 'D'"}],"mark":{"type":"tick","orient":"horizontal","color":"black","thickness":7,"size":84,"opacity":1},
 "encoding":{"x":{"field":"x","type":"quantitative","scale":{"domain":[0.2205,5.689],"nice":false,"zero":false},"axis":{"title":null}},"y":{"field":"hi","type":"quantitative","scale":{"domain":[0,25],"nice":false},"axis":{"title":"ng/ml"}}}},
{"data":{"name":"boxes"},"transform":[{"filter":"datum.panel === 'D'"}],"mark":{"type":"bar","fill":"white","stroke":"black","strokeWidth":7,"width":164},
 "encoding":{"x":{"field":"x","type":"quantitative","scale":{"domain":[0.2205,5.689],"nice":false,"zero":false},"axis":{"title":null}},"y":{"field":"q1","type":"quantitative","scale":{"domain":[0,25],"nice":false},"axis":{"title":"ng/ml"}},"y2":{"field":"q3"}}},
{"data":{"name":"boxes"},"transform":[{"filter":"datum.panel === 'D'"}],"mark":{"type":"tick","orient":"horizontal","color":"black","thickness":7,"size":164,"opacity":1},
 "encoding":{"x":{"field":"x","type":"quantitative","scale":{"domain":[0.2205,5.689],"nice":false,"zero":false},"axis":{"title":null}},"y":{"field":"med","type":"quantitative","scale":{"domain":[0,25],"nice":false},"axis":{"title":"ng/ml"}}}},
{"data":{"name":"points"},"transform":[{"filter":"datum.panel === 'D'"}],"mark":{"type":"point","shape":"square","filled":true,"color":"black","size":1200,"opacity":1},
 "encoding":{"x":{"field":"x","type":"quantitative","scale":{"domain":[0.2205,5.689],"nice":false,"zero":false},"axis":{"title":null}},"y":{"field":"y","type":"quantitative","scale":{"domain":[0,25],"nice":false},"axis":{"title":"ng/ml"}}}},
{"data":{"name":"brackets"},"transform":[{"filter":"datum.panel === 'D'"}],"mark":{"type":"rule","color":"black","strokeWidth":4},
 "encoding":{"x":{"field":"x1","type":"quantitative","scale":{"domain":[0.2205,5.689],"nice":false,"zero":false},"axis":{"title":null}},"x2":{"field":"x2"},"y":{"field":"yt","type":"quantitative","scale":{"domain":[0,25],"nice":false},"axis":{"title":"ng/ml"}}}},
{"data":{"name":"brackets"},"transform":[{"filter":"datum.panel === 'D'"}],"mark":{"type":"rule","color":"black","strokeWidth":4},
 "encoding":{"x":{"field":"x1","type":"quantitative","scale":{"domain":[0.2205,5.689],"nice":false,"zero":false},"axis":{"title":null}},"y":{"field":"yl","type":"quantitative","scale":{"domain":[0,25],"nice":false},"axis":{"title":"ng/ml"}},"y2":{"field":"yt"}}},
{"data":{"name":"brackets"},"transform":[{"filter":"datum.panel === 'D'"}],"mark":{"type":"rule","color":"black","strokeWidth":4},
 "encoding":{"x":{"field":"x2","type":"quantitative","scale":{"domain":[0.2205,5.689],"nice":false,"zero":false},"axis":{"title":null}},"y":{"field":"yr","type":"quantitative","scale":{"domain":[0,25],"nice":false},"axis":{"title":"ng/ml"}},"y2":{"field":"yt"}}},
{"data":{"name":"brackets"},"transform":[{"filter":"datum.panel === 'D' && datum.label !== 'ns'"}],"mark":{"type":"text","font":"Liberation Sans","fontSize":90,"fontWeight":"bold","color":"black","align":"center","baseline":"middle","dy":-18},
 "encoding":{"x":{"field":"xm","type":"quantitative","scale":{"domain":[0.2205,5.689],"nice":false,"zero":false},"axis":{"title":null}},"y":{"field":"yt","type":"quantitative","scale":{"domain":[0,25],"nice":false},"axis":{"title":"ng/ml"}},"text":{"field":"label"}}},
{"data":{"name":"brackets"},"transform":[{"filter":"datum.panel === 'D' && datum.label === 'ns'"}],"mark":{"type":"text","font":"Liberation Sans","fontSize":52,"color":"black","align":"center","baseline":"middle","dy":-47},
 "encoding":{"x":{"field":"xm","type":"quantitative","scale":{"domain":[0.2205,5.689],"nice":false,"zero":false},"axis":{"title":null}},"y":{"field":"yt","type":"quantitative","scale":{"domain":[0,25],"nice":false},"axis":{"title":"ng/ml"}},"text":{"field":"label"}}},
{"data":{"name":"texts"},"transform":[{"filter":"datum.panel === 'D' && datum.kind === 'title'"}],"mark":{"type":"text","font":"Liberation Serif","fontSize":87,"color":"black","align":"center","baseline":"alphabetic"},
 "encoding":{"x":{"field":"x","type":"quantitative","scale":{"domain":[0.2205,5.689],"nice":false,"zero":false},"axis":{"title":null}},"y":{"field":"y","type":"quantitative","scale":{"domain":[0,25],"nice":false},"axis":{"title":"ng/ml"}},"text":{"field":"text"}}},
{"data":{"name":"texts"},"transform":[{"filter":"datum.panel === 'D' && datum.kind === 'letter'"}],"mark":{"type":"text","font":"Liberation Sans","fontSize":100,"fontWeight":"bold","color":"black","align":"center","baseline":"alphabetic"},
 "encoding":{"x":{"field":"x","type":"quantitative","scale":{"domain":[0.2205,5.689],"nice":false,"zero":false},"axis":{"title":null}},"y":{"field":"y","type":"quantitative","scale":{"domain":[0,25],"nice":false},"axis":{"title":"ng/ml"}},"text":{"field":"text"}}}
]
}
]
}
